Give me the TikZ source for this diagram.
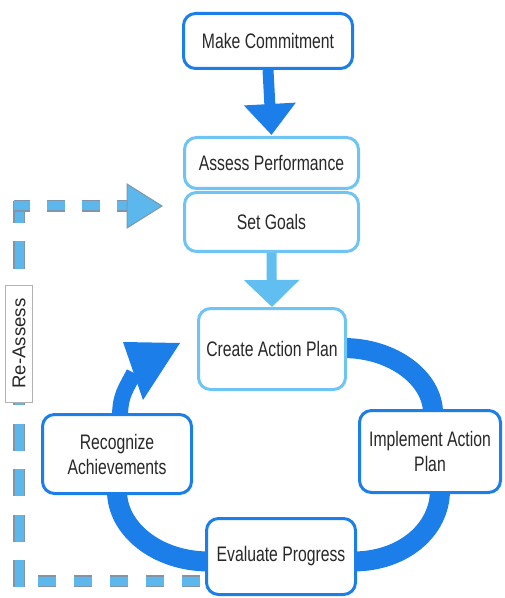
\documentclass[tikz,border=0pt]{standalone}
\usepackage{fontspec}
\setmainfont{Liberation Sans}
\newfontfamily\boxfont{Liberation Sans}[FakeStretch=0.75]
\usetikzlibrary{arrows.meta,calc,backgrounds}

\definecolor{flowblue}{RGB}{28,126,232}
\definecolor{paleblue}{RGB}{96,190,240}
\definecolor{paleedge}{RGB}{110,196,242}
\definecolor{dashfill}{RGB}{92,184,236}
\definecolor{dashedge}{RGB}{128,150,168}
\definecolor{labeltext}{RGB}{40,40,40}

\tikzset{
  box/.style={rounded corners=6pt, line width=1.5pt, fill=white, inner sep=0pt,
    align=center, text=labeltext, font=\boxfont\fontsize{10.5}{12.5}\selectfont},
  darkbox/.style={box, draw=flowblue},
  palebox/.style={box, draw=paleedge},
  loopband/.style={draw=flowblue, line width=10pt},
  redash/.style={draw=dashedge, line width=0.6pt, double=dashfill, double distance=4.5pt},
  sidelabel/.style={draw=gray!60, fill=white, line width=0.5pt, inner sep=0pt,
    rotate=90, minimum width=58.5pt, minimum height=13.5pt,
    text=labeltext, font=\fontsize{9.3}{11}\selectfont},
}

\begin{document}
\begin{tikzpicture}[x=0.5pt,y=-0.5pt]
\useasboundingbox (0,0) rectangle (504,598);

% steps
\node[darkbox, minimum width=84.5pt, minimum height=27.5pt] (mc) at (268,41) {Make Commitment};
\node[palebox, minimum width=87pt, minimum height=25.5pt] (ap) at (271.5,163) {Assess Performance};
\node[palebox, minimum width=87pt, minimum height=29.5pt] (sg) at (271.5,222) {Set Goals};
\node[palebox, minimum width=73.5pt, minimum height=40.5pt] (cap) at (272,349) {Create Action Plan};
\node[darkbox, minimum width=70.5pt, minimum height=41pt] (iap) at (430,451.5) {Implement Action\\Plan};
\node[darkbox, minimum width=74.5pt, minimum height=39.5pt] (ra) at (117,454) {Recognize\\Achievements};
\node[darkbox, minimum width=74.5pt, minimum height=38pt] (ep) at (281,556.5) {Evaluate Progress};

% re-assess loop label
\node[sidelabel] (rl) at (19,343.5) {Re-Assess};

% helper points
\coordinate (d0) at ($(ep.west)+(0,24.5)$);
\coordinate (dtip) at ($(sg.west)+(-21,-16)$);
\coordinate (c1) at (d0 -| rl);
\coordinate (c2) at (rl |- dtip);
\coordinate (dbase) at ($(dtip)+(-35,0)$);
\coordinate (hb) at (134,373);

\begin{scope}[on background layer]
  % entry arrows
  \draw[flowblue, line width=5.5pt, -{Triangle[width=25pt,length=15.5pt]}]
    (mc.south) -- ($(ap.north)+(0,-1)$);
  \draw[paleblue, line width=5pt, -{Triangle[width=27pt,length=13.5pt]}]
    (sg.south) -- (cap.north);

  % cycle
  \draw[loopband] ($(cap.east)+(-4,-1)$) .. controls +(51,0) and +(0,-34) .. ($(iap.north)+(3,4)$);
  \draw[loopband] ($(iap.south)+(10,-4)$) .. controls +(0,40) and +(50,0) .. ($(ep.east)+(-4,5)$);
  \draw[loopband] ($(ep.west)+(4,5)$) .. controls +(-52,0) and +(0,38) .. ($(ra.south)+(0,-4)$);
  \draw[loopband, line width=8pt] ($(ra.north)+(3,4)$) .. controls +(0,-22) and +(-8,16) .. (hb);

  % re-assess path
  \draw[redash, dash pattern=on 9.25pt off 8.75pt, dash phase=15.5pt] (d0) -- (c1);
  \draw[redash, dash pattern=on 13.5pt off 9.25pt] ($(c1)+(0,6)$) -- ($(c2)+(0,-5)$);
  \draw[redash, dash pattern=on 9pt off 8.5pt, dash phase=1pt] ($(c2)+(-5,0)$) -- (dbase);
\end{scope}

% arrow heads
\fill[flowblue] ($(hb)+(46,-30)$) -- ($(hb)+(-11,-31)$) -- ($(hb)+(9,27)$) -- cycle;
\filldraw[fill=dashfill, draw=dashedge, line width=0.5pt]
  (dtip) -- ($(dbase)+(0,-22)$) -- ($(dbase)+(0,22)$) -- cycle;

% label drawn again above the dashes
\node[sidelabel] at (rl) {Re-Assess};
\end{tikzpicture}
\end{document}
